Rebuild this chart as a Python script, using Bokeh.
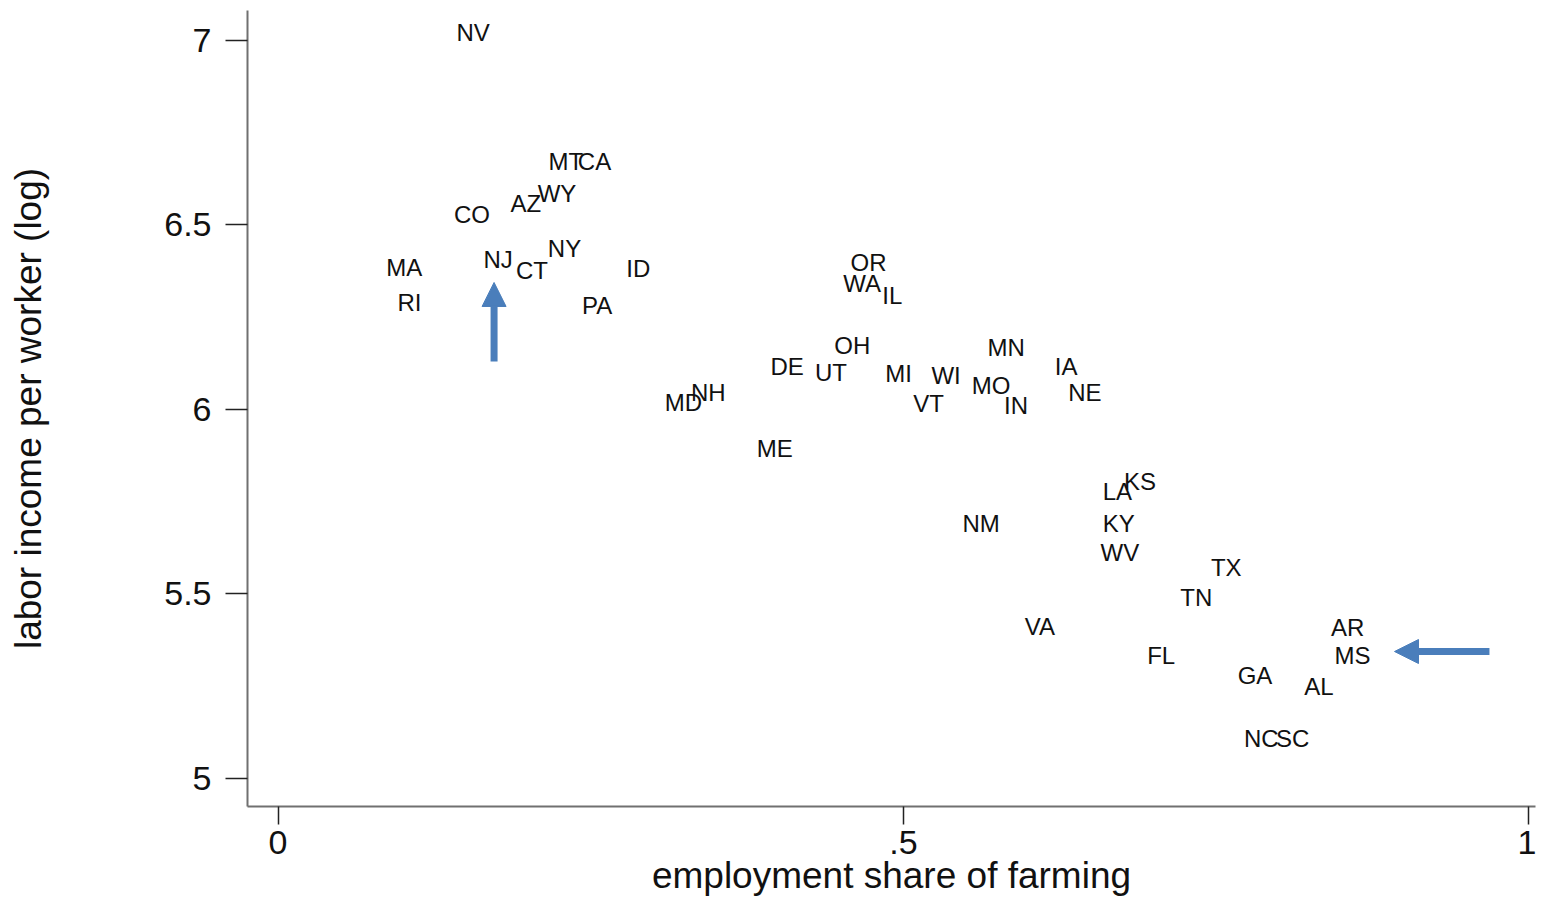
from bokeh.plotting import figure
from bokeh.models import ColumnDataSource, FixedTicker, Range1d, Arrow, NormalHead
from bokeh.core.properties import value
from bokeh.embed import file_html
from bokeh.resources import INLINE

states = ["NV", "MT", "CA", "WY", "AZ", "CO", "NY", "MA", "NJ", "CT", "ID", "RI", "PA",
          "OR", "WA", "IL", "OH", "DE", "UT", "MI", "WI", "MO", "VT", "MN", "IN", "IA",
          "NE", "NH", "MD", "ME",
          "KS", "LA", "NM", "KY", "WV", "TX", "TN", "VA", "AR", "FL", "MS", "GA", "AL",
          "NC", "SC"]
farm_share = [0.156, 0.230, 0.253, 0.223, 0.198, 0.155, 0.229, 0.101, 0.176, 0.203, 0.288, 0.105, 0.255,
              0.472, 0.467, 0.491, 0.459, 0.407, 0.442, 0.496, 0.534, 0.570, 0.520, 0.582, 0.590, 0.630,
              0.645, 0.344, 0.324, 0.397,
              0.689, 0.671, 0.562, 0.672, 0.673, 0.758, 0.734, 0.609, 0.855, 0.706, 0.859, 0.781, 0.832,
              0.786, 0.811]
log_income = [7.022, 6.671, 6.671, 6.585, 6.558, 6.528, 6.436, 6.385, 6.407, 6.377, 6.382, 6.290, 6.282,
              6.398, 6.341, 6.309, 6.173, 6.117, 6.100, 6.098, 6.092, 6.065, 6.016, 6.168, 6.011, 6.117,
              6.046, 6.046, 6.019, 5.894,
              5.805, 5.778, 5.691, 5.691, 5.612, 5.572, 5.491, 5.412, 5.409, 5.333, 5.333, 5.279, 5.249,
              5.108, 5.108]

x_ticks = [0, 0.5, 1]
x_tick_labels = ["0", ".5", "1"]
y_ticks = [5, 5.5, 6, 6.5, 7]
y_tick_labels = ["5", "5.5", "6", "6.5", "7"]

FONT = "Liberation Sans"
ARROW_COLOR = "#4a7ebb"

p = figure(width=1536, height=898, output_backend="svg", toolbar_location=None,
           x_range=Range1d(-0.0244, 1.0052), y_range=Range1d(4.924, 7.081),
           min_border_left=247, min_border_bottom=92, min_border_top=10, min_border_right=1)
p.outline_line_color = None
p.xgrid.visible = False
p.ygrid.visible = False
p.background_fill_color = "white"
p.border_fill_color = "white"

src = ColumnDataSource(dict(x=farm_share, y=log_income, t=states))
p.text(x="x", y="y", text="t", source=src, text_align="center", text_baseline="middle",
       text_font=value(FONT), text_font_size="24px", text_color="#111111")

# arrows highlighting NJ and MS
p.add_layout(Arrow(end=NormalHead(size=24, fill_color=ARROW_COLOR, line_color=ARROW_COLOR),
                   x_start=0.1727, y_start=6.130, x_end=0.1727, y_end=6.344,
                   line_color=ARROW_COLOR, line_width=7))
p.add_layout(Arrow(end=NormalHead(size=24, fill_color=ARROW_COLOR, line_color=ARROW_COLOR),
                   x_start=0.9684, y_start=5.344, x_end=0.8925, y_end=5.344,
                   line_color=ARROW_COLOR, line_width=7))

for ax in (p.xaxis[0], p.yaxis[0]):
    ax.axis_line_color = "#707070"
    ax.axis_line_width = 2
    ax.major_tick_line_color = "#222222"
    ax.major_tick_line_width = 1.5
    ax.major_tick_in = 0
    ax.minor_tick_line_color = None
    ax.major_label_text_font = FONT
    ax.major_label_text_color = "#111111"
    ax.axis_label_text_font = FONT
    ax.axis_label_text_font_style = "normal"
    ax.axis_label_text_color = "#111111"

p.xaxis.ticker = FixedTicker(ticks=x_ticks)
p.xaxis.major_label_overrides = dict(zip(x_ticks, x_tick_labels))
p.xaxis.major_tick_out = 18
p.xaxis.major_label_standoff = 6
p.xaxis.major_label_text_font_size = "34px"
p.xaxis.axis_label = "employment share of farming"
p.xaxis.axis_label_text_font_size = "37px"
p.xaxis.axis_label_standoff = -2

p.yaxis.ticker = FixedTicker(ticks=y_ticks)
p.yaxis.major_label_overrides = dict(zip(y_ticks, y_tick_labels))
p.yaxis.major_tick_out = 22
p.yaxis.major_label_standoff = 14
p.yaxis.major_label_orientation = "horizontal"
p.yaxis.major_label_text_font_size = "34px"
p.yaxis.axis_label = "labor income per worker (log)"
p.yaxis.axis_label_text_font_size = "37px"
p.yaxis.axis_label_standoff = 112

open("out.html", "w").write(file_html(p, INLINE))
